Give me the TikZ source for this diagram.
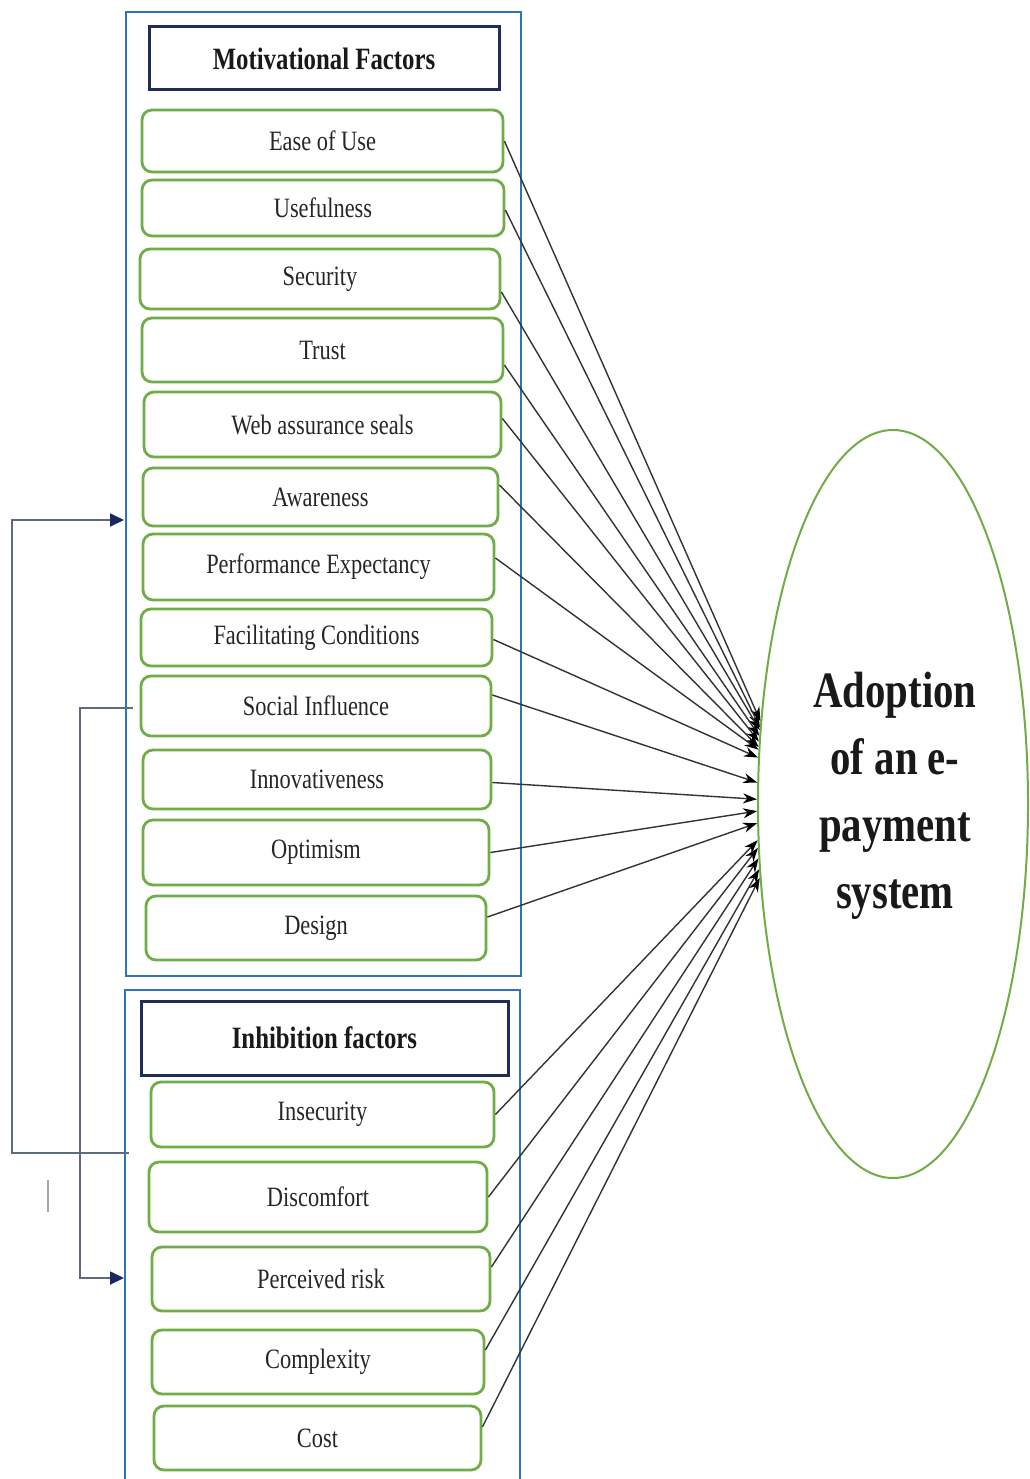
\documentclass[tikz,border=0pt]{standalone}
\usepackage{fontspec}
\setmainfont{Liberation Serif}
\newfontfamily\tnr[FakeStretch=0.8]{Liberation Serif}
\usetikzlibrary{arrows.meta,shapes.geometric}
\definecolor{boxgreen}{RGB}{112,173,71}
\definecolor{outerblue}{RGB}{46,117,182}
\definecolor{hdrnavy}{RGB}{31,45,90}
\definecolor{connnavy}{RGB}{95,105,130}
\definecolor{tipnavy}{RGB}{25,40,100}
\begin{document}
\begin{tikzpicture}[x=1pt,y=-1pt,
  factor/.style={draw=boxgreen,line width=2.8pt,rounded corners=10pt,fill=white,
    font=\tnr\fontsize{28}{30}\selectfont,text=black!85,inner sep=0pt},
  header/.style={draw=hdrnavy,line width=3pt,fill=white,
    font=\tnr\bfseries\fontsize{31}{33}\selectfont,text=black!90,inner sep=0pt},
  outerbox/.style={draw=outerblue,line width=2.6pt,inner sep=0pt},
  link/.style={draw=black!80,line width=1.4pt,-{Stealth[length=14pt,width=10pt,color=black]}},
  back/.style={draw=connnavy,line width=1.8pt,-{Triangle[length=14pt,width=13pt,color=tipnavy]}}
]
\clip (0,0) rectangle (1029,1479);
\fill[white] (0,0) rectangle (1029,1479);

% outer containers
\node[outerbox,minimum width=395pt,minimum height=964pt] (mot) at (323.5,494) {};
\node[outerbox,minimum width=395pt,minimum height=520pt] (inh) at (322.5,1250) {};

% headers
\node[header,minimum width=350pt,minimum height=63pt] (mh) at (324,58.5) {Motivational Factors};
\node[header,minimum width=367pt,minimum height=74pt] (ih) at (324.5,1038) {Inhibition factors};

% motivational factors
\node[factor,minimum width=361pt,minimum height=62pt] (ease) at (322.5,141) {Ease of Use};
\node[factor,minimum width=362pt,minimum height=56pt] (use) at (323,208) {Usefulness};
\node[factor,minimum width=360pt,minimum height=60pt] (sec) at (320,279) {Security};
\node[factor,minimum width=361pt,minimum height=64pt] (trust) at (322.5,350) {Trust};
\node[factor,minimum width=357pt,minimum height=65pt] (web) at (322.5,424.5) {Web assurance seals};
\node[factor,minimum width=355pt,minimum height=58pt] (aware) at (320.5,497) {Awareness};
\node[factor,minimum width=351pt,minimum height=66pt] (perf) at (318.5,567) {Performance Expectancy};
\node[factor,minimum width=351pt,minimum height=57pt] (facil) at (316.5,637.5) {Facilitating Conditions};
\node[factor,minimum width=350pt,minimum height=60pt] (social) at (316,706) {Social Influence};
\node[factor,minimum width=348pt,minimum height=59pt] (innov) at (317,779.5) {Innovativeness};
\node[factor,minimum width=346pt,minimum height=65pt] (optim) at (316,852.5) {Optimism};
\node[factor,minimum width=340pt,minimum height=64pt] (design) at (316,928) {Design};

% inhibition factors
\node[factor,minimum width=343pt,minimum height=65pt] (insec) at (322.5,1114.5) {Insecurity};
\node[factor,minimum width=338pt,minimum height=70pt] (disc) at (318,1197) {Discomfort};
\node[factor,minimum width=338pt,minimum height=64pt] (perc) at (321,1279) {Perceived risk};
\node[factor,minimum width=332pt,minimum height=64pt] (compl) at (318,1362) {Complexity};
\node[factor,minimum width=327pt,minimum height=64pt] (cost) at (317.5,1438) {Cost};

% outcome ellipse
\node[draw=boxgreen,line width=2pt,ellipse,minimum width=270pt,minimum height=748pt,inner sep=0pt] (ell) at (893,804) {};
\node[font=\tnr\bfseries\fontsize{51}{67}\selectfont,align=center,text=black!90] (lbl) at (895,796)
  {Adoption\\of an e-\\payment\\system};

% links to the ellipse
\foreach \n/\o/\a in {ease/0/148.4, use/-2/150.1, sec/-13/151.8, trust/-15/153.6,
  web/6/155.4, aware/12/157.2, perf/9/158.7, facil/-2/161.1, social/11/171.1,
  innov/-3/178.3, optim/0/183.4, design/11/188.9, insec/0/195.0, disc/0/198.9,
  perc/12/202.8, compl/12/206.4, cost/11/209.9}
  \draw[link] ([yshift=\o pt]\n.east) -- (ell.\a);

% feedback connectors on the left
\coordinate (s1) at (129,1153);
\coordinate (e1) at (124,520);
\coordinate (s2) at (133,708);
\coordinate (e2) at (124,1278);
\draw[back] (s1) -- (12,1153) |- (e1);
\draw[back] (s2) -- (80,708) |- (e2);

% small stray stroke
\coordinate (m1) at (48,1180);
\coordinate (m2) at (48,1212);
\draw[draw=gray!70,line width=1.8pt] (m1) -- (m2);
\end{tikzpicture}
\end{document}
